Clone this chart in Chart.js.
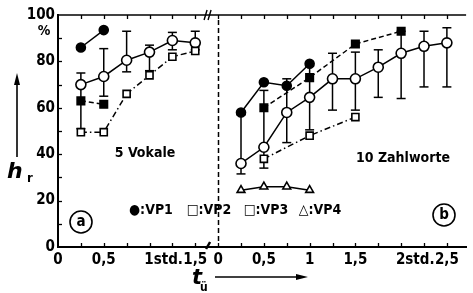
<!DOCTYPE html>
<html><head><meta charset="utf-8">
<script src="https://cdn.jsdelivr.net/npm/chart.js@4"></script>
<style>html,body{margin:0;padding:0;background:#fff}canvas{display:block}</style>
</head><body>
<canvas id="c" width="473" height="293"></canvas>
<script>
// Panel (a): 5 Vokale  (time in hours)
const tA_VP1 = [0.25, 0.5];               const vA_VP1 = [86, 93.5];
const tA_VP2 = [0.25, 0.5];               const vA_VP2 = [63, 61.5];
const tA_VP3 = [0.25, 0.5, 0.75, 1, 1.25, 1.5]; const vA_VP3 = [49.5, 49.5, 66, 74, 82, 84.5];
const tA_M   = [0.25, 0.5, 0.75, 1, 1.25, 1.5];
const vA_M   = [70, 73.5, 80.5, 84, 89, 88];
const hiA_M  = [75, 85.5, 93, 87, 92.5, 93];
const loA_M  = [51, 65, 75.5, 76, 85, 85];
// Panel (b): 10 Zahlworte
const tB_VP1 = [0.25, 0.5, 0.75, 1];      const vB_VP1 = [58, 71, 69.5, 79];
const tB_VP2 = [0.5, 1, 1.5, 2];          const vB_VP2 = [60, 73, 87.5, 93];
const tB_VP3 = [0.5, 1, 1.5];             const vB_VP3 = [38, 48, 56];
const tB_VP4 = [0.25, 0.5, 0.75, 1];      const vB_VP4 = [24.5, 26, 26, 24.5];
const tB_M   = [0.25, 0.5, 0.75, 1, 1.25, 1.5, 1.75, 2, 2.25, 2.5];
const vB_M   = [36, 43, 58, 64.5, 72.5, 72.5, 77.5, 83.5, 86.5, 88];
const hiB_M  = [57, 67.5, 72.5, 78, 83.5, 84, 85, 93, 93, 94.5];
const loB_M  = [31.5, 34, 45, 50.5, 59, 59, 64.5, 64, 69, 69];
// Axis labels
const leftTickLabels  = {0:'0', 0.5:'0,5', 1:'      1std.', 1.5:'1,5'};
const rightTickLabels = {0:'0', 0.5:'0,5', 1:'1', 1.5:'1,5', 2:'      2std.', 2.5:'2,5'};
const yTickLabels = [0, 20, 40, 60, 80, 100];
const legendTexts = ['●:VP1', '□:VP2', '□:VP3', '△:VP4'];

const OFFSET_B = 1.75; // panel (b) starts at this position of the common axis
const F = "'Liberation Sans Narrow','DejaVu Sans Condensed','Liberation Sans',sans-serif";

const pts = (t, v, off) => t.map((x, i) => ({x: x + off, y: v[i]}));
const errLine = (t, lo, hi, off) => {
  const d = [];
  t.forEach((x, i) => { d.push({x: x + off, y: lo[i]}, {x: x + off, y: hi[i]}, {x: x + off, y: null}); });
  return d;
};
const caps = (t, lo, hi, off) => {
  const d = [];
  t.forEach((x, i) => { d.push({x: x + off, y: lo[i]}, {x: x + off, y: hi[i]}); });
  return d;
};

const K = '#000';
function series(data, style, dash, r, fill, order) {
  return { data, showLine: true, borderColor: K, borderWidth: 1.5, borderDash: dash,
    pointStyle: style, pointRadius: r, pointBorderWidth: 1.6, pointBorderColor: K,
    pointBackgroundColor: fill, spanGaps: false, order };
}
const datasets = [
  series(pts(tA_VP1, vA_VP1, 0), 'circle', [], 4.5, K, 1),
  series(pts(tB_VP1, vB_VP1, OFFSET_B), 'circle', [], 4.5, K, 1),
  series(pts(tA_VP2, vA_VP2, 0), 'rect', [5, 3], 5.3, K, 1),
  series(pts(tB_VP2, vB_VP2, OFFSET_B), 'rect', [5, 3], 5.3, K, 1),
  series(pts(tA_VP3, vA_VP3, 0), 'rect', [6, 3, 1.5, 3], 5, '#fff', 1),
  series(pts(tB_VP3, vB_VP3, OFFSET_B), 'rect', [6, 3, 1.5, 3], 5, '#fff', 1),
  series(pts(tB_VP4, vB_VP4, OFFSET_B), 'triangle', [], 4.5, '#fff', 1),
  series(pts(tA_M, vA_M, 0), 'circle', [], 5, '#fff', 2),
  series(pts(tB_M, vB_M, OFFSET_B), 'circle', [], 5, '#fff', 2),
  { data: errLine(tA_M, loA_M, hiA_M, 0), showLine: true, spanGaps: false, pointRadius: 0, borderColor: K, borderWidth: 1.5, order: 5 },
  { data: errLine(tB_M, loB_M, hiB_M, OFFSET_B), showLine: true, spanGaps: false, pointRadius: 0, borderColor: K, borderWidth: 1.5, order: 5 },
  { data: caps(tA_M, loA_M, hiA_M, 0), showLine: false, pointStyle: 'line', pointRadius: 4.5, pointBorderWidth: 1.5, pointBorderColor: K, borderColor: K, order: 4 },
  { data: caps(tB_M, loB_M, hiB_M, OFFSET_B), showLine: false, pointStyle: 'line', pointRadius: 4.5, pointBorderWidth: 1.5, pointBorderColor: K, borderColor: K, order: 4 },
];

const decor = {
  id: 'decor',
  afterDraw(chart) {
    const {ctx, chartArea: a, scales: {x, y}} = chart;
    ctx.save();
    ctx.strokeStyle = K; ctx.fillStyle = K;
    // top border
    ctx.lineWidth = 1.5;
    ctx.beginPath(); ctx.moveTo(a.left, a.top); ctx.lineTo(a.right, a.top); ctx.stroke();
    // inward tick marks
    ctx.lineWidth = 1.3;
    for (let v = 0.25; v <= x.max; v += 0.25) {
      const px = Math.round(x.getPixelForValue(v)) + 0.5;
      ctx.beginPath();
      ctx.moveTo(px, a.bottom); ctx.lineTo(px, a.bottom - 4);
      ctx.moveTo(px, a.top); ctx.lineTo(px, a.top + 4);
      ctx.stroke();
    }
    for (let v = 10; v < 100; v += 10) {
      const py = Math.round(y.getPixelForValue(v)) + 0.5;
      ctx.beginPath(); ctx.moveTo(a.left, py); ctx.lineTo(a.left + 4, py); ctx.stroke();
    }
    // dashed separator at start of panel b
    const sx = Math.round(x.getPixelForValue(OFFSET_B)) + 0.5;
    ctx.setLineDash([5, 3]); ctx.lineWidth = 1.5;
    ctx.beginPath(); ctx.moveTo(sx, a.top + 5); ctx.lineTo(sx, a.bottom - 4); ctx.stroke();
    ctx.setLineDash([]);
    // break marks
    const bx = x.getPixelForValue(1.64);
    ctx.lineWidth = 1.4;
    ctx.beginPath();
    ctx.moveTo(bx - 4, a.top + 5); ctx.lineTo(bx - 1, a.top - 5);
    ctx.moveTo(bx, a.top + 5); ctx.lineTo(bx + 3, a.top - 5);
    ctx.stroke();
    ctx.lineWidth = 2.5;
    ctx.beginPath(); ctx.moveTo(bx - 2, a.bottom + 2); ctx.lineTo(bx + 2, a.bottom - 5); ctx.stroke();
    // texts
    ctx.textBaseline = 'middle';
    ctx.textAlign = 'center';
    ctx.font = "bold 14px " + F;
    ctx.fillText('%', 44, 31);
    ctx.fillText('5 Vokale', 145, 153);
    ctx.fillText('10 Zahlworte', 403, 158);
    const lx = [151, 209, 266, 320];
    legendTexts.forEach((s, i) => ctx.fillText(s, lx[i], 210));
    // circled a / b
    ctx.lineWidth = 1.6;
    ctx.font = "bold 15px " + F;
    [[81, 222, 'a'], [444, 215, 'b']].forEach(([cx, cy, s]) => {
      ctx.beginPath(); ctx.arc(cx, cy, 11, 0, Math.PI * 2); ctx.stroke();
      ctx.fillText(s, cx, cy);
    });
    // y axis title with arrow
    ctx.lineWidth = 1.6;
    ctx.beginPath(); ctx.moveTo(17, 157); ctx.lineTo(17, 82); ctx.stroke();
    ctx.beginPath(); ctx.moveTo(17, 73); ctx.lineTo(14, 85); ctx.lineTo(20, 85); ctx.closePath(); ctx.fill();
    ctx.textAlign = 'left'; ctx.textBaseline = 'alphabetic';
    ctx.font = "italic bold 22px 'DejaVu Sans',sans-serif";
    ctx.fillText('h', 7, 178);
    ctx.font = "bold 13px " + F;
    ctx.fillText('r', 27, 182);
    // x axis title with arrow
    ctx.font = "italic bold 21px 'DejaVu Sans',sans-serif";
    ctx.fillText('t', 192, 284);
    ctx.font = "bold 12px " + F;
    ctx.fillText('ü', 200, 291);
    ctx.beginPath(); ctx.moveTo(215, 277); ctx.lineTo(298, 277); ctx.stroke();
    ctx.beginPath(); ctx.moveTo(308, 277); ctx.lineTo(296, 274); ctx.lineTo(296, 280); ctx.closePath(); ctx.fill();
    ctx.restore();
  }
};

new Chart(document.getElementById('c'), {
  type: 'scatter',
  data: { datasets },
  options: {
    responsive: false, animation: false, devicePixelRatio: 1,
    layout: { padding: { top: 15, right: 0, left: 0, bottom: 0 } },
    plugins: { legend: { display: false }, tooltip: { enabled: false } },
    scales: {
      x: {
        type: 'linear', min: 0, max: 4.46,
        afterFit(s) { s.height = 46; },
        grid: { display: false, drawTicks: false },
        border: { display: true, color: K, width: 2 },
        ticks: {
          stepSize: 0.25, includeBounds: false, autoSkip: false, maxRotation: 0, padding: 4,
          color: K, font: { family: F, size: 15, weight: 'bold' },
          callback(v) {
            const r = Math.round(v * 100) / 100;
            if (r < OFFSET_B - 0.01) return leftTickLabels[r] ?? '';
            const t = Math.round((r - OFFSET_B) * 100) / 100;
            return rightTickLabels[t] ?? '';
          }
        }
      },
      y: {
        min: 0, max: 100,
        afterFit(s) { s.width = 58; },
        grid: { display: false, drawTicks: false },
        border: { display: true, color: K, width: 2 },
        ticks: {
          stepSize: 20, padding: 3, color: K,
          font: { family: F, size: 15, weight: 'bold' },
          callback(v) { return yTickLabels.includes(v) ? String(v) : ''; }
        }
      }
    }
  },
  plugins: [decor]
});
</script>
</body></html>
